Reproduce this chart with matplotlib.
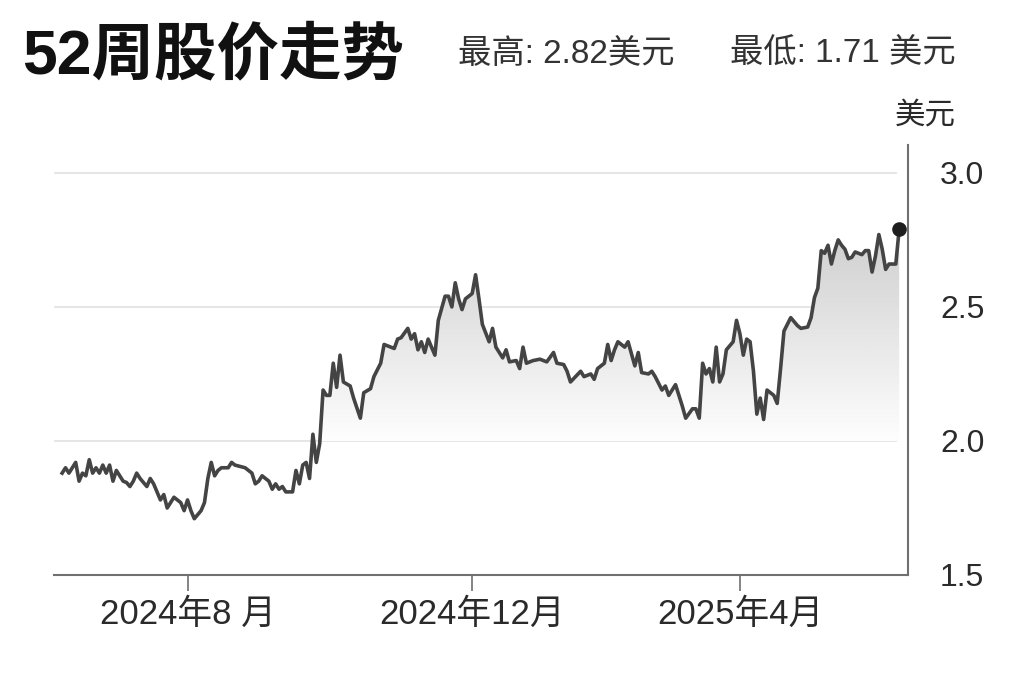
import numpy as np
import matplotlib.pyplot as plt
from matplotlib.colors import LinearSegmentedColormap
from matplotlib.path import Path

plt.rcParams['font.family'] = ['Liberation Sans', 'Noto Sans CJK SC', 'DejaVu Sans']

# trading-day index and closing price (USD)
days = [0, 1, 2, 3, 4, 5, 6, 7, 8, 9, 10, 11, 12, 13, 14, 15, 16, 18, 19, 20,
        21, 22, 23, 25, 26, 27, 29, 30, 31, 33, 35, 36, 37, 38, 39, 41, 42, 43, 44, 45,
        46, 47, 49, 50, 51, 54, 56, 57, 58, 59, 61, 62, 63, 64, 65, 66, 68, 69, 70, 71,
        72, 73, 74, 75, 76, 77, 78, 79, 80, 81, 82, 83, 85, 86, 88, 89, 91, 92, 94, 95,
        97, 98, 99, 100, 102, 103, 104, 105, 106, 107, 108, 109, 110, 111, 113, 114, 115, 116, 117, 118,
        119, 121, 122, 123, 124, 126, 127, 128, 130, 131, 132, 134, 135, 136, 137, 139, 141, 143, 145, 146,
        148, 149, 150, 153, 154, 156, 157, 158, 160, 161, 162, 163, 164, 166, 167, 169, 170, 171, 173, 174,
        175, 177, 178, 179, 181, 183, 184, 186, 187, 188, 189, 190, 191, 192, 193, 194, 195, 196, 198, 199,
        200, 201, 202, 203, 204, 205, 206, 207, 208, 210, 211, 212, 213, 215, 217, 218, 220, 221, 222, 223,
        224, 225, 226, 227, 228, 229, 230, 231, 232, 233, 234, 236, 237, 238, 239, 240, 241, 242, 243, 244,
        246, 247]
prices = [1.88, 1.90, 1.88, 1.90, 1.92, 1.85, 1.88, 1.87, 1.93, 1.88, 1.90, 1.88, 1.91, 1.88, 1.91, 1.85, 1.89, 1.85, 1.845, 1.83,
          1.85, 1.88, 1.86, 1.83, 1.86, 1.84, 1.78, 1.80, 1.75, 1.79, 1.77, 1.74, 1.78, 1.74, 1.71, 1.74, 1.77, 1.86, 1.92, 1.87,
          1.89, 1.90, 1.90, 1.92, 1.91, 1.90, 1.88, 1.84, 1.85, 1.87, 1.85, 1.82, 1.84, 1.82, 1.83, 1.81, 1.81, 1.89, 1.84, 1.91,
          1.92, 1.86, 2.025, 1.92, 1.99, 2.19, 2.17, 2.17, 2.29, 2.20, 2.32, 2.22, 2.205, 2.16, 2.085, 2.18, 2.195, 2.24, 2.29, 2.36,
          2.35, 2.345, 2.38, 2.385, 2.42, 2.38, 2.40, 2.34, 2.37, 2.33, 2.38, 2.35, 2.32, 2.45, 2.54, 2.54, 2.50, 2.59, 2.53, 2.49,
          2.53, 2.55, 2.62, 2.53, 2.435, 2.37, 2.42, 2.35, 2.31, 2.34, 2.295, 2.30, 2.27, 2.35, 2.29, 2.30, 2.305, 2.295, 2.33, 2.29,
          2.285, 2.26, 2.22, 2.26, 2.24, 2.25, 2.23, 2.27, 2.29, 2.36, 2.30, 2.34, 2.37, 2.35, 2.37, 2.28, 2.33, 2.255, 2.25, 2.26,
          2.24, 2.19, 2.205, 2.17, 2.21, 2.13, 2.085, 2.12, 2.12, 2.085, 2.29, 2.25, 2.27, 2.22, 2.35, 2.22, 2.25, 2.34, 2.37, 2.45,
          2.40, 2.32, 2.38, 2.37, 2.26, 2.10, 2.16, 2.08, 2.19, 2.17, 2.14, 2.27, 2.41, 2.46, 2.43, 2.42, 2.425, 2.46, 2.535, 2.57,
          2.71, 2.70, 2.73, 2.66, 2.71, 2.75, 2.73, 2.715, 2.68, 2.685, 2.705, 2.695, 2.71, 2.71, 2.63, 2.69, 2.77, 2.715, 2.64, 2.66,
          2.66, 2.79]

tick_days = [37, 121, 200]
tick_labels = ['2024年8 月', '2024年12月', '2025年4月']
y_ticks = [1.5, 2.0, 2.5, 3.0]
y_labels = ['1.5', '2.0', '2.5', '3.0']
grid_levels = [2.0, 2.5, 3.0]
high, low = 2.82, 1.71

W, H = 1024, 682
fig = plt.figure(figsize=(W / 100, H / 100), dpi=100)
ax = fig.add_axes([54 / W, 1 - 575 / H, (908 - 54) / W, (575 - 145) / H])

x = np.array(days, dtype=float)
y = np.array(prices)
xlim = (-2.4, 249.6)
ylim = (1.5, 3.104)

# gradient fill between the line and the 2.0 level
fb = ax.fill_between(x, y, 2.0, where=y >= 2.0, interpolate=True,
                     facecolor='none', edgecolor='none')
clip = Path.make_compound_path(*fb.get_paths())
cmap = LinearSegmentedColormap.from_list('fade', ['#fefefe', '#cbcbcb'])
grad = np.linspace(0, 1, 256).reshape(-1, 1)
im = ax.imshow(grad, extent=[x[0], x[-1], 2.0, 2.85], origin='lower',
               aspect='auto', cmap=cmap, zorder=1)
im.set_clip_path(clip, transform=ax.transData)

ax.hlines(grid_levels, xlim[0], x[-1] - 0.5, color='#e4e4e4', lw=1.3, zorder=0.5)

ax.plot(x, y, color='#444444', lw=2.6, zorder=3)
ax.plot(x[-1], y[-1], 'o', color='#1e1e1e', ms=9.5, zorder=4)

ax.set_xlim(*xlim)
ax.set_ylim(*ylim)

for s in ['top', 'left']:
    ax.spines[s].set_visible(False)
for s in ['bottom', 'right']:
    ax.spines[s].set_color('#707070')
    ax.spines[s].set_linewidth(1.5)

ax.set_xticks(tick_days)
ax.set_xticklabels(tick_labels, fontsize=25, color='#2a2a2a')
ax.tick_params(axis='x', length=11.5, width=1.2, color='#707070', pad=5)

ax.yaxis.tick_right()
ax.set_yticks(y_ticks)
ax.set_yticklabels(y_labels, fontsize=23, color='#2a2a2a')
ax.tick_params(axis='y', length=0, pad=23)

fig.text(925 / W, 1 - 116 / H, '美元', fontsize=22, color='#2a2a2a',
         ha='center', va='center')
fig.text(22 / W, 1 - 56 / H, '52周股价走势', fontsize=45, fontweight='bold',
         color='#111111', ha='left', va='center')
fig.text(458 / W, 1 - 54 / H, f'最高: {high:.2f}美元',
         fontsize=24, color='#333333', ha='left', va='center')
fig.text(730 / W, 1 - 54 / H, f'最低: {low:.2f} 美元',
         fontsize=24, color='#333333', ha='left', va='center')

fig.savefig('out.png', dpi=100, facecolor='white')
